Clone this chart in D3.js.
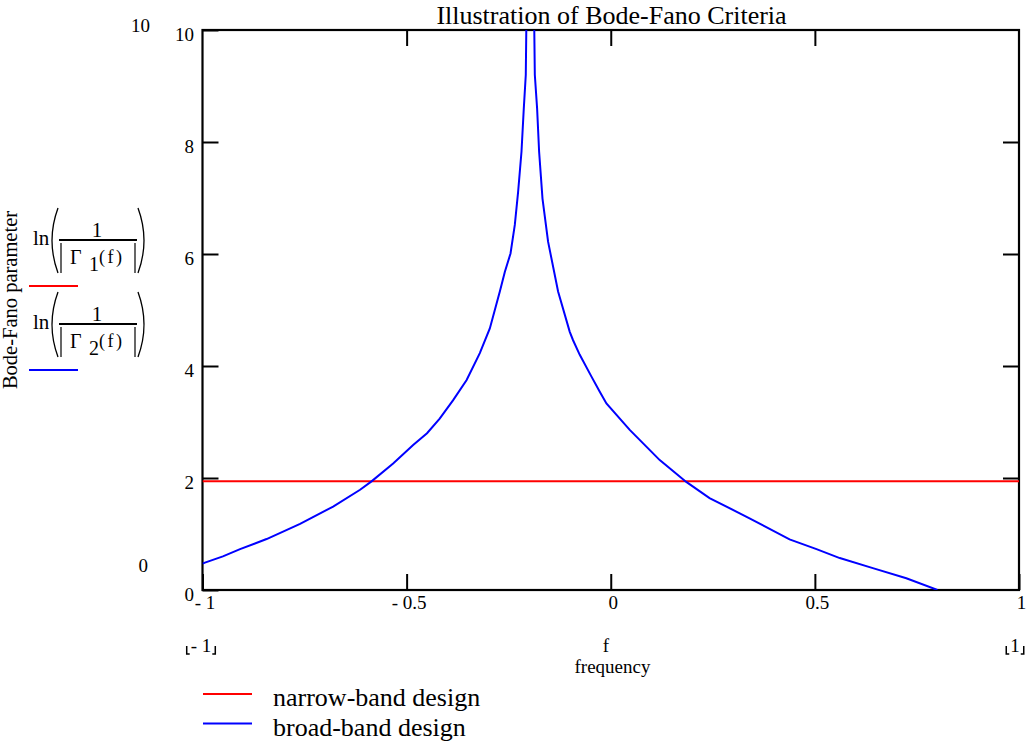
<!DOCTYPE html>
<html><head><meta charset="utf-8">
<script src="https://cdn.jsdelivr.net/npm/d3@7"></script>
<style>
html,body{margin:0;padding:0;background:#fff;}
svg{display:block;font-family:"Liberation Serif","Times New Roman",serif;}
</style></head>
<body><svg id="chart" width="1030" height="748"></svg>
<script>
// ---------- data ----------
const chartTitle = "Illustration of Bode-Fano Criteria";
const xTickValues = [-1, -0.5, 0, 0.5, 1];
const xTickLabels = ["- 1", "- 0.5", "0", "0.5", "1"];
const yTickValues = [0, 2, 4, 6, 8, 10];
const yTickLabels = ["0", "2", "4", "6", "8", "10"];
const seriesNames = ["narrow-band design", "broad-band design"];
const seriesColors = ["#ff0000", "#0000ff"];
// narrow-band design: constant Bode-Fano parameter
const narrowFreq = [-1, 1];
const narrowParam = [1.94, 1.94];
// broad-band design
const broadFreq = [-1.0, -0.994, -0.95, -0.908, -0.843, -0.761, -0.680, -0.614, -0.586, -0.533, -0.484, -0.45, -0.419, -0.386, -0.353,
  -0.3207, -0.2962, -0.2717, -0.2595, -0.2455, -0.235, -0.2269, -0.2186, -0.213, -0.2081, -0.2064, -0.197,
  -0.1878, -0.186, -0.1804, -0.1755, -0.1672, -0.1535, -0.129, -0.1004, -0.0923, -0.0759, -0.0472, -0.0269, -0.0106,
  0.0465, 0.120, 0.185, 0.242, 0.316, 0.340, 0.438, 0.504, 0.561, 0.642, 0.724, 0.797, 0.80];
const broadParam = [0.47, 0.49, 0.60, 0.73, 0.91, 1.18, 1.49, 1.79, 1.94, 2.26, 2.59, 2.80, 3.06, 3.39, 3.75,
  4.23, 4.67, 5.33, 5.68, 6.01, 6.52, 7.11, 7.83, 8.60, 9.20, 10.3, 40,
  10.3, 9.20, 8.60, 7.83, 6.99, 6.22, 5.33, 4.61, 4.46, 4.20, 3.81, 3.54, 3.33,
  2.86, 2.32, 1.93, 1.64, 1.37, 1.28, 0.905, 0.73, 0.57, 0.39, 0.21, 0.01, 0.0];

// ---------- layout ----------
const svg = d3.select("#chart");
const L = 202.5, R = 1019, T = 30, B = 590;
const x = d3.scaleLinear().domain([-1, 1]).range([L, R]);
const y = d3.scaleLinear().domain([0, 10]).range([B, T]);
const tickLen = 16;

svg.append("defs").append("clipPath").attr("id", "plotClip")
  .append("rect").attr("x", L).attr("y", T).attr("width", R - L).attr("height", B - T);

// title
svg.append("text").attr("x", 611.5).attr("y", 24).attr("text-anchor", "middle")
  .attr("font-size", 26).text(chartTitle);

// axes
const fontTick = 19;
const yAxis = d3.axisLeft(y).tickValues(yTickValues).tickSizeInner(-tickLen).tickSizeOuter(0).tickPadding(8.5)
  .tickFormat((d, i) => yTickLabels[i]);
const gy = svg.append("g").attr("transform", `translate(${L},0)`).call(yAxis);
gy.selectAll("text").attr("font-size", fontTick).attr("font-family", "Liberation Serif").attr("dy", "0.35em")
  .attr("transform", "translate(0,4)").attr("fill", "#000");

const yAxisR = d3.axisRight(y).tickValues(yTickValues.slice(1, -1)).tickSizeInner(-tickLen).tickSizeOuter(0).tickFormat("");
svg.append("g").attr("transform", `translate(${R},0)`).call(yAxisR);

const xAxis = d3.axisBottom(x).tickValues(xTickValues).tickSizeInner(-tickLen).tickSizeOuter(0).tickPadding(6)
  .tickFormat((d, i) => xTickLabels[i]);
const gx = svg.append("g").attr("transform", `translate(0,${B})`).call(xAxis);
gx.selectAll("text").attr("font-size", fontTick).attr("font-family", "Liberation Serif")
  .attr("transform", "translate(2,0)").attr("fill", "#000");

const xAxisT = d3.axisTop(x).tickValues(xTickValues.slice(1, -1)).tickSizeInner(-tickLen).tickSizeOuter(0).tickFormat("");
svg.append("g").attr("transform", `translate(0,${T})`).call(xAxisT);

svg.selectAll(".tick line").attr("stroke", "#000").attr("stroke-width", 2);
svg.selectAll(".domain").remove();

// frame
svg.append("rect").attr("x", L).attr("y", T).attr("width", R - L).attr("height", B - T)
  .attr("fill", "none").attr("stroke", "#000").attr("stroke-width", 2.2);

// series
const line = d3.line().x(d => x(d[0])).y(d => y(d[1]));
const plot = svg.append("g").attr("clip-path", "url(#plotClip)");
plot.append("path").datum(narrowFreq.map((f, i) => [f, narrowParam[i]]))
  .attr("d", line).attr("fill", "none").attr("stroke", seriesColors[0]).attr("stroke-width", 2);
plot.append("path").datum(broadFreq.map((f, i) => [f, broadParam[i]]))
  .attr("d", line).attr("fill", "none").attr("stroke", seriesColors[1]).attr("stroke-width", 2);

// limit labels (Mathcad style)
svg.append("text").attr("x", 150).attr("y", 32).attr("text-anchor", "end").attr("font-size", fontTick).text("10");
svg.append("text").attr("x", 148).attr("y", 572).attr("text-anchor", "end").attr("font-size", fontTick).text("0");

function cornerLabel(cx, txt) {
  const g = svg.append("g");
  const t = g.append("text").attr("x", cx).attr("y", 651.5).attr("text-anchor", "middle")
    .attr("font-size", fontTick).text(txt);
  const w = t.node().getComputedTextLength();
  const x0 = cx - w / 2 - 4, x1 = cx + w / 2 + 4;
  g.append("path").attr("d", `M${x0},646 V654 H${x0 + 3}`).attr("fill", "none").attr("stroke", "#000").attr("stroke-width", 1.5);
  g.append("path").attr("d", `M${x1},646 V654 H${x1 - 3}`).attr("fill", "none").attr("stroke", "#000").attr("stroke-width", 1.5);
}
cornerLabel(201, "- 1");
cornerLabel(1015, "1");

// x axis title
svg.append("text").attr("x", 606).attr("y", 651.5).attr("text-anchor", "middle").attr("font-size", fontTick).text("f");
svg.append("text").attr("x", 612.5).attr("y", 673).attr("text-anchor", "middle").attr("font-size", fontTick).text("frequency");

// y axis title
svg.append("text").attr("transform", "translate(17,300) rotate(-90)").attr("text-anchor", "middle")
  .attr("font-size", 20.5).text("Bode-Fano parameter");

// left math legend
function mathBlock(dy, idx) {
  const g = svg.append("g").attr("transform", `translate(0,${dy})`);
  g.append("text").attr("x", 33).attr("y", 245).attr("font-size", 21).text("ln");
  g.append("path").attr("d", "M58,208 Q46,240.5 58,273").attr("fill", "none").attr("stroke", "#000").attr("stroke-width", 1.3);
  g.append("path").attr("d", "M138,208 Q150,240.5 138,273").attr("fill", "none").attr("stroke", "#000").attr("stroke-width", 1.3);
  g.append("text").attr("x", 97).attr("y", 237).attr("text-anchor", "middle").attr("font-size", 21).text("1");
  g.append("line").attr("x1", 59).attr("x2", 137).attr("y1", 240).attr("y2", 240).attr("stroke", "#000").attr("stroke-width", 2);
  g.append("line").attr("x1", 61).attr("x2", 61).attr("y1", 243).attr("y2", 273).attr("stroke", "#000").attr("stroke-width", 1.2);
  g.append("line").attr("x1", 135).attr("x2", 135).attr("y1", 243).attr("y2", 273).attr("stroke", "#000").attr("stroke-width", 1.2);
  g.append("text").attr("x", 70).attr("y", 264).attr("font-size", 20).text("Γ");
  g.append("text").attr("x", 89).attr("y", 271).attr("font-size", 20).text(String(idx + 1));
  g.append("text").attr("x", 99).attr("y", 263).attr("font-size", 18).attr("letter-spacing", 2.5).text("(f)");
  g.append("line").attr("x1", 29).attr("x2", 78).attr("y1", 286).attr("y2", 286)
    .attr("stroke", seriesColors[idx]).attr("stroke-width", 2);
}
mathBlock(0, 0);
mathBlock(84, 1);

// bottom legend
seriesNames.forEach((name, i) => {
  const yy = 694 + i * 29.5;
  svg.append("line").attr("x1", 203).attr("x2", 252).attr("y1", yy).attr("y2", yy)
    .attr("stroke", seriesColors[i]).attr("stroke-width", 2);
  svg.append("text").attr("x", 273).attr("y", yy + 12).attr("font-size", 26).text(name);
});
</script>
</body></html>
